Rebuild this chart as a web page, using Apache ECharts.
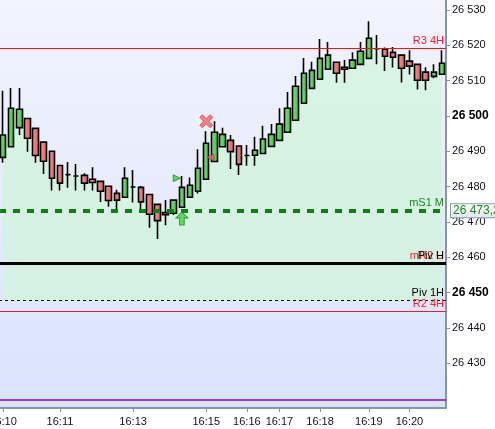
<!DOCTYPE html>
<html><head><meta charset="utf-8">
<script src="https://cdn.jsdelivr.net/npm/echarts@6/dist/echarts.min.js"></script>
<style>html,body{margin:0;padding:0;background:#fff}#c{width:495px;height:429px}</style>
</head><body><div id="c"></div>
<script>
// ---- data ----
const labelIdx = [0, 7, 16, 25, 30, 34, 39, 45, 50];
const labelText = ['16:10', '16:11', '16:13', '16:15', '16:16', '16:17', '16:18', '16:19', '16:20'];
const openVals = [26488.3,26491.3,26496.7,26499.3,26496.5,26492.6,26490.0,26486.0,26483.4,26483.0,
  26483.2,26482.1,26481.5,26480.1,26478.1,26477.0,26479.9,26479.8,26477.8,26475.0,
  26472.7,26472.5,26474.2,26477.0,26478.7,26482.1,26487.1,26491.3,26493.1,26491.5,
  26488.8,26488.9,26489.4,26491.4,26493.1,26495.4,26498.8,26503.6,26507.8,26510.4,
  26513.2,26515.2,26513.8,26513.5,26514.6,26516.3,26519.0,26518.9,26518.0,26517.2,
  26515.5,26514.6,26512.4,26511.2,26511.8];
const closeVals = [26494.6,26502.2,26501.9,26493.7,26488.8,26487.2,26482.4,26481.0,26483.4,26483.0,
  26481.0,26481.2,26478.7,26476.1,26476.2,26482.4,26479.9,26475.7,26472.2,26470.4,
  26472.1,26476.2,26479.8,26480.4,26485.2,26492.3,26495.4,26494.8,26489.9,26486.3,
  26488.8,26490.3,26493.5,26494.8,26497.7,26502.2,26508.4,26512.1,26512.9,26516.3,
  26517.2,26512.1,26513.2,26515.8,26518.3,26522.0,26519.0,26516.9,26516.6,26513.5,
  26514.1,26510.1,26510.1,26512.4,26514.9];
const lowVals = [26486.8,26491.3,26494.6,26489.9,26486.8,26483.6,26478.9,26478.9,26479.7,26478.9,
  26478.9,26478.9,26475.7,26474.3,26472.6,26477.0,26475.5,26473.6,26468.4,26465.2,
  26469.1,26472.0,26474.2,26477.0,26478.1,26482.1,26487.1,26491.3,26485.0,26483.3,
  26485.9,26485.9,26489.4,26491.4,26493.1,26495.4,26498.8,26503.6,26507.8,26510.4,
  26513.2,26509.4,26509.4,26513.5,26514.6,26516.3,26514.6,26512.7,26513.7,26509.5,
  26511.7,26507.5,26507.3,26510.7,26511.8];
const highVals = [26507.1,26507.9,26507.9,26499.3,26496.5,26492.6,26490.0,26486.0,26487.0,26486.4,
  26483.8,26485.5,26481.5,26480.1,26479.1,26485.5,26484.7,26480.2,26477.8,26475.0,
  26476.2,26476.2,26483.0,26482.6,26490.6,26495.7,26498.5,26496.7,26494.6,26491.5,
  26491.8,26494.1,26497.2,26497.7,26502.2,26506.8,26511.3,26516.4,26515.3,26521.8,
  26520.9,26515.2,26515.8,26518.0,26520.9,26526.8,26522.9,26519.4,26519.5,26517.2,
  26518.6,26514.6,26513.8,26514.6,26518.6];
// green area top edge
const fillVals = [26491.0,26497.0,26499.0,26496.5,26492.6,26489.9,26486.2,26483.5,26483.4,26483.0,
  26482.1,26481.7,26480.1,26478.1,26477.2,26479.7,26479.9,26477.8,26475.0,26472.7,
  26472.4,26474.3,26477.0,26478.7,26481.9,26487.2,26491.2,26493.1,26491.5,26488.9,
  26488.8,26489.6,26491.5,26493.1,26495.4,26498.8,26503.6,26507.8,26510.4,26513.4,
  26515.2,26513.6,26513.5,26514.6,26516.5,26519.2,26519.0,26517.9,26517.3,26515.3,
  26514.8,26512.4,26511.2,26511.8,26513.4];
const fillBase = 26447.8;
const yTicks = [26430, 26440, 26450, 26460, 26470, 26480, 26490, 26500, 26510, 26520, 26530];
const boldTicks = [26450, 26500];
const levelNames = ['R3 4H', 'mS1 M', 'mR2 U', 'Piv H', 'Piv 1H', 'R2 4H', ''];
const levelValues = [26519.2, 26473.2, 26458.3, 26458.3, 26447.8, 26444.7, 26419.6];
const tagValue = 26473.2;
const tagText = '26 473,2';
// signal markers [index, value]
const xMark = [[25, 26498.5]];
const upArrow = [[22, 26471.0]];
const rightTri = [[21, 26482.4]];
const leftTri = [[26, 26488.3]];

// ---- build ----
const cats = openVals.map((_, i) => { const k = labelIdx.indexOf(i); return k >= 0 ? labelText[k] : ''; });
const candles = openVals.map((o, i) => [o, closeVals[i], lowVals[i], highVals[i]]);
const fmt = v => String(Math.round(v)).replace(/\B(?=(\d{3})+(?!\d))/g, ' ');
const G = echarts.graphic.LinearGradient;
const FF = 'Liberation Sans, Arial, sans-serif';

const levelStyles = [
  { lineStyle: { color: '#ff1010', width: 1, type: 'solid' }, label: { color: '#ff2030' } },
  { lineStyle: { color: '#0a820a', width: 4, type: [7, 7] }, label: { color: '#1a8a1a' } },
  { lineStyle: { color: '#e02020', width: 1, type: 'solid' }, label: { color: '#ff2020' } },
  { lineStyle: { color: '#000000', width: 3, type: 'solid' }, label: { color: '#000000' } },
  { lineStyle: { color: '#000000', width: 1, type: [3, 3] }, label: { color: '#000000' } },
  { lineStyle: { color: '#e0203a', width: 1, type: 'solid' }, label: { color: '#ff2030' } },
  { lineStyle: { color: '#8e00c8', width: 1.5, type: 'solid' }, label: { show: false } }
];
const mlData = levelValues.map((v, i) => ({
  yAxis: v,
  lineStyle: levelStyles[i].lineStyle,
  label: Object.assign({ show: true, formatter: levelNames[i], position: 'insideEndTop', distance: 2,
    fontSize: 11, fontFamily: FF }, levelStyles[i].label)
}));

const chart = echarts.init(document.getElementById('c'), null, { renderer: 'canvas' });
chart.setOption({
  animation: false,
  backgroundColor: '#ffffff',
  grid: { left: -1, right: 49, top: 0, bottom: 21, show: true, borderWidth: 0, outerBoundsMode: 'none', containLabel: false,
    backgroundColor: new G(0, 0, 0, 1, [{ offset: 0, color: '#f2f4fe' }, { offset: 1, color: '#d9e3fc' }]) },
  xAxis: {
    type: 'category', data: cats, boundaryGap: true,
    axisLine: { lineStyle: { color: '#8596a5', width: 2 } },
    axisTick: { show: true, length: 4, interval: (i, v) => v !== '', alignWithLabel: true, lineStyle: { color: '#8596a5' } },
    axisLabel: { interval: (i, v) => v !== '', color: '#111133', fontSize: 11, margin: 8, fontFamily: FF },
    splitLine: { show: false }
  },
  yAxis: {
    type: 'value', position: 'right', min: 26417.4, max: 26532.8, scale: true,
    axisLine: { show: true, lineStyle: { color: '#8596a5', width: 2 } },
    axisTick: { show: true, length: 4, customValues: yTicks, lineStyle: { color: '#8596a5' } },
    axisLabel: { customValues: yTicks, margin: 6, color: '#111122', fontSize: 11, fontFamily: FF,
      formatter: v => boldTicks.indexOf(Math.round(v)) >= 0 ? '{b|' + fmt(v) + '}' : fmt(v),
      rich: { b: { fontWeight: 'bold', fontSize: 12, color: '#000', fontFamily: FF } } },
    splitLine: { show: false },
    axisPointer: { show: false }
  },
  series: [
    { type: 'line', data: fillVals, smooth: 0.3, showSymbol: false, silent: true, z: 1,
      lineStyle: { width: 0 },
      areaStyle: { origin: fillBase, color: 'rgba(204,246,212,0.9)' },
      markLine: { symbol: ['none', 'none'], silent: true, data: mlData, animation: false } },
    { type: 'line', data: [], z: 6, silent: true,
      markLine: { symbol: ['none', 'none'], silent: true, animation: false,
        data: [{ yAxis: tagValue, lineStyle: { color: 'rgba(0,0,0,0)', width: 1 },
          label: { show: true, position: 'end', distance: 5, formatter: tagText, color: '#1a8a1a',
            fontSize: 12, fontFamily: FF, padding: [1, 3, 0, 2], borderColor: '#8a9aaa', borderWidth: 1,
            backgroundColor: new G(0, 0, 0, 1, [{ offset: 0, color: '#ffffff' }, { offset: 1, color: '#dfe5ec' }]) } }] } },
    { type: 'candlestick', data: candles, barWidth: 6, z: 3,
      itemStyle: {
        color: new G(0, 0, 1, 0, [{ offset: 0, color: '#80e680' }, { offset: 1, color: '#38c238' }]),
        color0: new G(0, 0, 1, 0, [{ offset: 0, color: '#f49a9a' }, { offset: 1, color: '#e05a5a' }]),
        borderColor: '#000', borderColor0: '#000', borderWidth: 1.6 } },
    { type: 'scatter', data: xMark, z: 5, symbol: 'path://M2,0 L5,3 L8,0 L10,2 L7,5 L10,8 L8,10 L5,7 L2,10 L0,8 L3,5 L0,2 Z',
      symbolSize: 13, itemStyle: { color: '#f06a6a', borderColor: '#e23c3c', borderWidth: 1 } },
    { type: 'scatter', data: upArrow, z: 5, symbol: 'path://M5,0 L10,5 L7,5 L7,11 L3,11 L3,5 L0,5 Z',
      symbolSize: [12, 13], itemStyle: { color: '#44d044', borderColor: '#17901a', borderWidth: 1 } },
    { type: 'scatter', data: rightTri, z: 5, symbol: 'triangle', symbolRotate: -90, symbolSize: 7,
      symbolOffset: [3, 0], itemStyle: { color: '#44cc44', borderColor: '#17901a', borderWidth: 1 } },
    { type: 'scatter', data: leftTri, z: 5, symbol: 'triangle', symbolRotate: 90, symbolSize: 7,
      symbolOffset: [-4, 0], itemStyle: { color: '#f06a6a', borderColor: '#d03030', borderWidth: 1 } }
  ]
});
</script></body></html>
